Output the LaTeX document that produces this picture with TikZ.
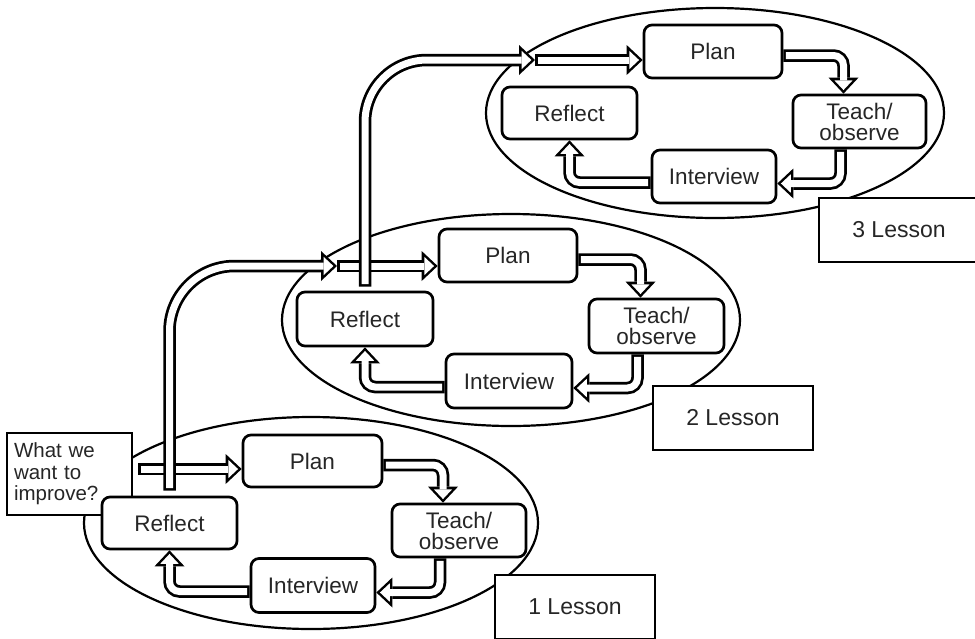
\documentclass[tikz,border=0pt]{standalone}
\usepackage{fontspec}
\setmainfont{Liberation Sans}
\usetikzlibrary{arrows.meta,calc,shapes.geometric}
\newcommand\hollowarrow[2][]{\draw[hout,#1] #2; \draw[hin,#1] #2;}
\begin{document}
\begin{tikzpicture}[x=1pt,y=-1pt,
  box/.style={draw, line width=2.7pt, rounded corners=8pt, fill=white, inner sep=0pt,
    font=\fontsize{22.5}{21}\selectfont, align=center, text=black!85},
  lbox/.style={draw, line width=2.9pt, fill=white, minimum width=160pt, minimum height=64pt,
    inner sep=0pt, font=\fontsize{23}{21}\selectfont, text=black!85},
  lesson/.style={draw, line width=2.2pt, ellipse, inner sep=0pt},
  hout/.style={line width=12.5pt, -{Triangle[length=16pt, width=30pt, line width=0pt]}},
  hin/.style={white, line width=7pt, shorten <=2.6pt, shorten >=3.6pt,
    -{Triangle[length=9.8pt, width=18.4pt, line width=0pt]}},
]
\fill[white] (0,0) rectangle (975,638);
\useasboundingbox (0,0) rectangle (975,638);

% lesson ellipses
\node[lesson, minimum width=454pt, minimum height=212pt] (e1) at (311,523) {};
\node[lesson, minimum width=458pt, minimum height=212pt] (e2) at (511,320) {};
\node[lesson, minimum width=458pt, minimum height=210pt] (e3) at (715,113) {};

% starting question
\node[draw, line width=2.7pt, fill=white, text width=111pt, inner xsep=7pt, inner ysep=0pt,
  minimum height=82pt, align=left, text=black!85, font=\fontsize{20.5}{21.5}\selectfont]
  (what) at (69.5,474) {What we\\want to\\improve?};

% lesson 1
\node[box, minimum width=135pt, minimum height=52pt] (r1) at (169.5,523) {Reflect};
\node[box, minimum width=139pt, minimum height=52pt] (p1) at (312.5,461) {Plan};
\node[box, minimum width=134pt, minimum height=53pt] (t1) at (459,530.5) {Teach/\\observe};
\node[box, minimum width=124pt, minimum height=54pt] (i1) at (313,585.5) {Interview};
\node[lbox] (l1) at (575,607) {1 Lesson};

% lesson 2
\node[box, minimum width=136pt, minimum height=54pt] (r2) at (365,319) {Reflect};
\node[box, minimum width=138pt, minimum height=53pt] (p2) at (508,255.5) {Plan};
\node[box, minimum width=135pt, minimum height=54pt] (t2) at (656.5,326) {Teach/\\observe};
\node[box, minimum width=126pt, minimum height=54pt] (i2) at (509,381) {Interview};
\node[lbox] (l2) at (733,418) {2 Lesson};

% lesson 3
\node[box, minimum width=135pt, minimum height=52pt] (r3) at (569.5,113) {Reflect};
\node[box, minimum width=138pt, minimum height=53pt] (p3) at (713,51.5) {Plan};
\node[box, minimum width=133pt, minimum height=53pt] (t3) at (859.5,121.5) {Teach/\\observe};
\node[box, minimum width=124pt, minimum height=53pt] (i3) at (714,176.5) {Interview};
\node[lbox] (l3) at (899,230) {3 Lesson};

% cycle arrows
\foreach \k in {1,2,3}{
  \hollowarrow[rounded corners=10pt]{($(p\k.east)+(0,4)$) -| ($(t\k.north)+(-16,0)$)}
  \hollowarrow[rounded corners=10pt]{($(t\k.south)+(-19,0)$) |- ($(i\k.east)+(0,7)$)}
  \hollowarrow[rounded corners=10pt]{($(i\k.west)+(0,6)$) -| (r\k.south)}
}

% links between lessons
\coordinate (j2) at (337,266);
\coordinate (j3) at (535,60);
\hollowarrow{($(what.east)+(5,-5)$) -- ($(p1.west)+(0,8)$)}
\hollowarrow[rounded corners=65pt]{($(r1.north)+(0,-5)$) |- (j2)}
\hollowarrow{(j2) -- (p2.west |- j2)}
\hollowarrow[rounded corners=62pt]{($(r2.north)+(0,-4)$) |- (j3)}
\hollowarrow{(j3) -- (p3.west |- j3)}
\end{tikzpicture}
\end{document}
